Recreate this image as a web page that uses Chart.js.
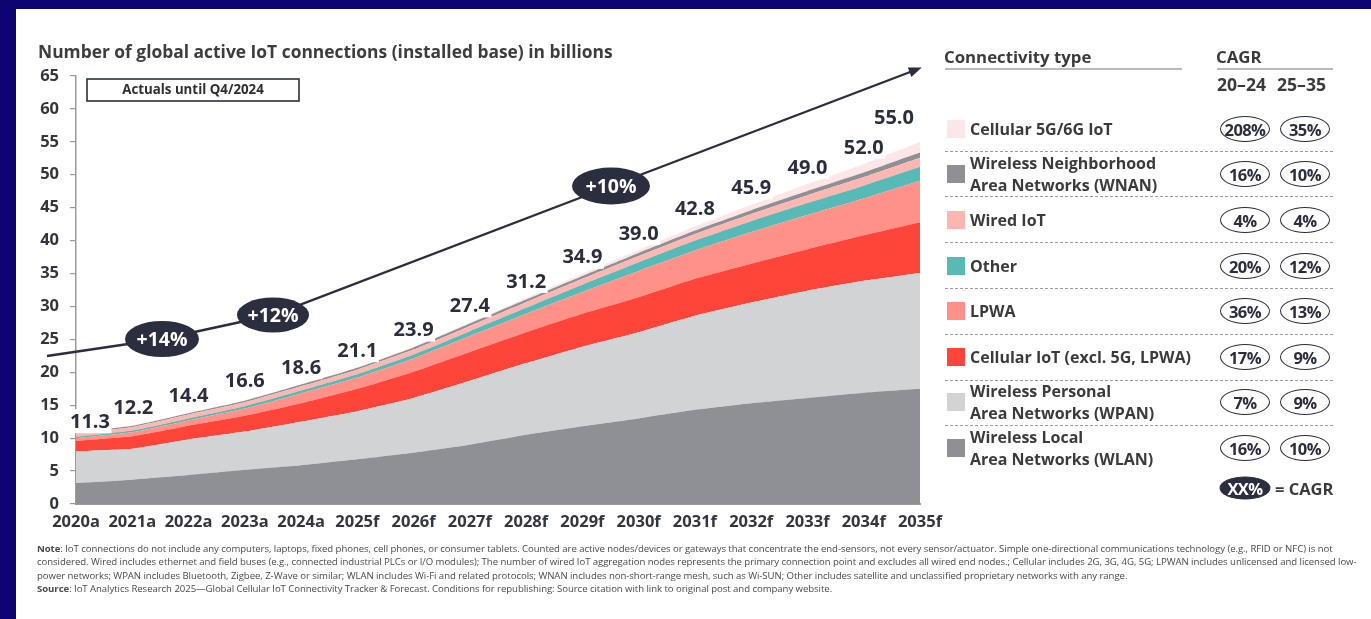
<!DOCTYPE html>
<html><head><meta charset="utf-8">
<script src="https://cdn.jsdelivr.net/npm/chart.js@4.4.1/dist/chart.umd.min.js"></script>
<style>
html,body{margin:0;padding:0;}
body{width:1371px;height:619px;background:#0b0471;position:relative;overflow:hidden;font-family:'Open Sans',sans-serif;}
#panel{position:absolute;left:16px;top:9px;right:0;bottom:0;background:#fff;}
#c{position:absolute;left:0;top:0;}
.t{position:absolute;white-space:nowrap;color:#3b3b3b;font-weight:700;line-height:1;transform:translateY(-50%);}
.hl{position:absolute;height:2px;background:#b9b9b9;}
.dl{position:absolute;height:0;border-top:1px dashed #9c9c9c;}
.sw{position:absolute;width:18px;height:18px;}
.bd{position:absolute;width:50px;height:26px;border:1.6px solid #2b2e3f;border-radius:50%;box-sizing:border-box;color:#2b2e3f;font-weight:700;font-size:16.5px;display:flex;align-items:center;justify-content:center;transform:translate(-50%,-50%);letter-spacing:-0.6px;}
#note{position:absolute;left:37px;top:542px;font-size:9.6px;line-height:13.4px;color:#4a4a4a;white-space:nowrap;letter-spacing:-0.06px;}
</style></head>
<body>
<div id="panel"></div>
<canvas id="c" width="1371" height="619"></canvas>
<div id="legend"></div>
<div id="note"><b>Note</b>: IoT connections do not include any computers, laptops, fixed phones, cell phones, or consumer tablets. Counted are active nodes/devices or gateways that concentrate the end-sensors, not every sensor/actuator. Simple one-directional communications technology (e.g., RFID or NFC) is not<br>considered. Wired includes ethernet and field buses (e.g., connected industrial PLCs or I/O modules); The number of wired IoT aggregation nodes represents the primary connection point and excludes all wired end nodes.; Cellular includes 2G, 3G, 4G, 5G; LPWAN includes unlicensed and licensed low-<br>power networks; WPAN includes Bluetooth, Zigbee, Z-Wave or similar; WLAN includes Wi-Fi and related protocols; WNAN includes non-short-range mesh, such as Wi-SUN; Other includes satellite and unclassified proprietary networks with any range.<br><b>Source</b>: IoT Analytics Research 2025—Global Cellular IoT Connectivity Tracker &amp; Forecast. Conditions for republishing: Source citation with link to original post and company website.</div>
<script>
// ---------- DATA ----------
const categories = ['2020a','2021a','2022a','2023a','2024a','2025f','2026f','2027f','2028f','2029f','2030f','2031f','2032f','2033f','2034f','2035f'];
const wlan     = [3.2,3.7,4.4,5.2,5.9,6.8,7.8,9.0,10.5,11.8,13.0,14.3,15.3,16.1,16.9,17.5];
const wpan     = [4.8,4.7,5.4,5.8,6.6,7.3,8.3,9.7,10.9,12.1,13.1,14.3,15.3,16.3,17.0,17.6];
const cellular = [1.6,1.9,2.1,2.4,2.8,3.4,4.0,4.4,4.7,5.0,5.3,5.6,5.9,6.3,6.9,7.7];
const lpwa     = [0.4,0.6,0.8,1.1,1.5,1.7,2.0,2.4,2.8,3.3,4.0,4.3,4.8,5.2,5.6,6.3];
const other    = [0.2,0.25,0.3,0.35,0.42,0.5,0.6,0.75,0.9,1.1,1.3,1.5,1.65,1.8,1.95,2.1];
const wired    = [0.5,0.55,0.6,0.6,0.65,0.7,0.75,0.8,0.85,0.9,0.95,1.0,1.1,1.2,1.3,1.4];
const wnan     = [0.15,0.18,0.2,0.24,0.27,0.3,0.33,0.36,0.4,0.44,0.48,0.53,0.58,0.64,0.7,0.78];
const cell5g   = [0,0,0.01,0.02,0.05,0.08,0.12,0.17,0.24,0.33,0.45,0.6,0.8,1.05,1.3,1.6];
const totals   = [11.3,12.2,14.4,16.6,18.6,21.1,23.9,27.4,31.2,34.9,39.0,42.8,45.9,49.0,52.0,55.0];
const yMin = 0, yMax = 65, yStep = 5;
const growthLabels = ['+14%','+12%','+10%'];
// legend (top to bottom)
const legendNames = [['Cellular 5G/6G IoT'],['Wireless Neighborhood','Area Networks (WNAN)'],['Wired IoT'],['Other'],['LPWA'],['Cellular IoT (excl. 5G, LPWA)'],['Wireless Personal','Area Networks (WPAN)'],['Wireless Local','Area Networks (WLAN)']];
const cagr2024 = ['208%','16%','4%','20%','36%','17%','7%','16%'];
const cagr2535 = ['35%','10%','4%','12%','13%','9%','9%','10%'];

// ---------- STYLES ----------
const stackSeries = [wlan,wpan,cellular,lpwa,other,wired,wnan,cell5g];
const stackNames  = ['WLAN','WPAN','Cellular IoT','LPWA','Other','Wired IoT','WNAN','Cellular 5G/6G IoT'];
const stackColors = ['#8f9095','#d2d3d5','#ff4539','#ff9189','#58bab6','#ffb6b0','#8f9095','#fde6e5'];
const legendColors = ['#fde6e5','#8f9095','#ffb6b0','#58bab6','#ff9189','#ff4539','#d2d3d5','#8f9095'];
const DARK = '#2b2e3f';

// ---------- LEGEND (HTML) ----------
(function(){
  const L = document.getElementById('legend');
  let h = '';
  h += `<div class="t" style="left:38px;top:52px;font-size:17.4px;color:#3d3d3d">Number of global active IoT connections (installed base) in billions</div>`;
  h += `<div class="t" style="left:944px;top:57px;font-size:16.8px">Connectivity type</div>`;
  h += `<div class="hl" style="left:945px;top:68px;width:237px"></div>`;
  h += `<div class="t" style="left:1216px;top:57px;font-size:16.8px">CAGR</div>`;
  h += `<div class="hl" style="left:1217px;top:68px;width:116px"></div>`;
  h += `<div class="t" style="left:1217px;top:85px;font-size:17.6px">20–24</div>`;
  h += `<div class="t" style="left:1277px;top:85px;font-size:17.6px">25–35</div>`;
  const rowY = [129,174,220,266,311,357,402,448];
  const dashY = [151,196,242,288,334,380,425];
  legendNames.forEach((nm,i)=>{
    const y = rowY[i];
    h += `<div class="sw" style="left:947px;top:${y-9}px;background:${legendColors[i]}"></div>`;
    if(nm.length===1){
      h += `<div class="t" style="left:970px;top:${y}px;font-size:16px">${nm[0]}</div>`;
    } else {
      h += `<div class="t" style="left:970px;top:${y-11}px;font-size:16px">${nm[0]}</div>`;
      h += `<div class="t" style="left:970px;top:${y+11}px;font-size:16px">${nm[1]}</div>`;
    }
    h += `<div class="bd" style="left:1245px;top:${y}px">${cagr2024[i]}</div>`;
    h += `<div class="bd" style="left:1305px;top:${y}px">${cagr2535[i]}</div>`;
  });
  dashY.forEach(y=>{ h += `<div class="dl" style="left:945px;top:${y}px;width:388px"></div>`; });
  h += `<div class="bd" style="left:1245px;top:488px;background:${DARK};color:#fff;width:51px;height:23px">XX%</div>`;
  h += `<div class="t" style="left:1275px;top:489px;font-size:16.5px">= CAGR</div>`;
  L.innerHTML = h;
})();

// ---------- ANNOTATION PLUGIN ----------
function ellipse(ctx,cx,cy,rx,ry){ctx.beginPath();ctx.ellipse(cx,cy,rx,ry,0,0,Math.PI*2);}
const annot = {
  id:'annot',
  afterDatasetsDraw(chart){
    const ctx = chart.ctx, xs = chart.scales.x, ys = chart.scales.y;
    ctx.save();
    // total labels with white boxes
    ctx.font = 'bold 20px "Open Sans"';
    ctx.textAlign = 'center'; ctx.textBaseline = 'middle';
    totals.forEach((t,i)=>{
      let sum = 0; stackSeries.forEach(s=>sum+=s[i]);
      let x = xs.getPixelForValue(i), y = ys.getPixelForValue(Math.max(sum,t-0.4)) - 17;
      if(i===0){x += 14; y += 6;}
      if(i===1){x += 1; y -= 1;}
      if(i===categories.length-1){x -= 26; y -= 8;}
      const txt = t.toFixed(1), w = ctx.measureText(txt).width + 3;
      ctx.fillStyle = '#fff'; ctx.fillRect(x-w/2, y-12, w, 24);
      ctx.fillStyle = DARK; ctx.fillText(txt, x, y+1);
    });
    // actuals box
    ctx.lineWidth = 1.6; ctx.strokeStyle = DARK;
    ctx.strokeRect(87, 79, 212, 22);
    ctx.fillStyle = '#2f2f2f'; ctx.font = 'bold 13.3px "Open Sans"';
    ctx.fillText('Actuals until Q4/2024', 193, 90.5);
    // growth arrow
    const pts = [[47,356],[162,339],[273,315],[611,186],[918,69]];
    ctx.beginPath(); ctx.moveTo(pts[0][0],pts[0][1]);
    pts.slice(1).forEach(p=>ctx.lineTo(p[0],p[1]));
    ctx.strokeStyle = DARK; ctx.lineWidth = 2.4; ctx.stroke();
    const [ex,ey] = pts[4], [px,py] = pts[3];
    const ang = Math.atan2(ey-py, ex-px);
    ctx.beginPath();
    ctx.moveTo(ex+4*Math.cos(ang), ey+4*Math.sin(ang));
    ctx.lineTo(ex-9*Math.cos(ang)+5*Math.sin(ang), ey-9*Math.sin(ang)-5*Math.cos(ang));
    ctx.lineTo(ex-9*Math.cos(ang)-5*Math.sin(ang), ey-9*Math.sin(ang)+5*Math.cos(ang));
    ctx.closePath(); ctx.fillStyle = DARK; ctx.fill();
    // growth badges
    const badges = [[162,339,37,18],[273,315,36,17.5],[611,186,39,18.5]];
    ctx.font = 'bold 19.5px "Open Sans"';
    badges.forEach((b,i)=>{
      ellipse(ctx,b[0],b[1],b[2],b[3]); ctx.fillStyle = DARK; ctx.fill();
      ctx.fillStyle = '#fff'; ctx.fillText(growthLabels[i], b[0], b[1]+1);
    });
    ctx.restore();
  }
};

// ---------- CHART ----------
const tickFont = {family:'Open Sans', weight:'bold', size:16.5};
new Chart(document.getElementById('c'), {
  type:'line',
  data:{
    labels: categories,
    datasets: stackSeries.map((s,i)=>({
      label: stackNames[i], data: s,
      backgroundColor: stackColors[i], borderColor: stackColors[i],
      borderWidth: 0, fill: i===0 ? 'origin' : '-1', pointRadius: 0, tension: 0.15
    }))
  },
  options:{
    responsive:false, animation:false, devicePixelRatio:1,
    layout:{padding:{left:0, top:76, right:451, bottom:85}},
    plugins:{legend:{display:false}, tooltip:{enabled:false}},
    scales:{
      x:{
        offset:false,
        grid:{display:true, drawOnChartArea:false, drawTicks:false},
        border:{display:true, color:'#9a9a9a', width:2},
        ticks:{color:'#333640', font:tickFont, padding:8, maxRotation:0, autoSkip:false},
        afterFit(s){ s.height = 30; }
      },
      y:{
        stacked:true, min:yMin, max:yMax,
        ticks:{stepSize:yStep, color:'#333640', font:tickFont, padding:11},
        grid:{display:true, drawOnChartArea:false, drawTicks:true, tickLength:6, color:'#9a9a9a', lineWidth:1.2},
        border:{display:true, color:'#9a9a9a', width:1.5},
        afterFit(s){ s.width = 76; }
      }
    }
  },
  plugins:[annot]
});
</script>
</body></html>
